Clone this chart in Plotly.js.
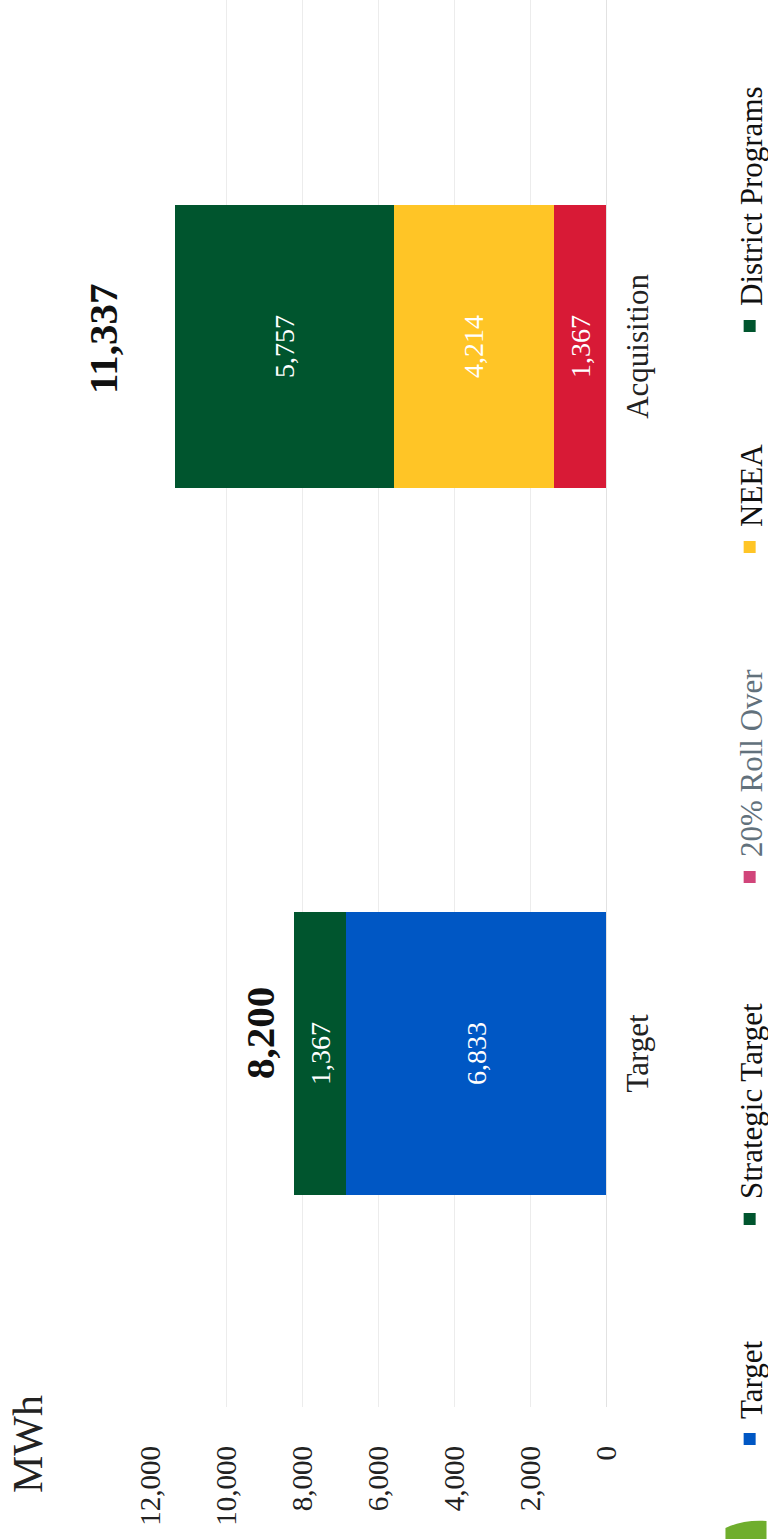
<!DOCTYPE html>
<html>
<head>
<meta charset="utf-8">
<script src="https://cdn.plot.ly/plotly-3.0.1.min.js"></script>
<style>
  html, body { margin: 0; padding: 0; background: #ffffff; overflow: hidden; }
  #wrap { position: absolute; left: 0; top: 0; width: 768px; height: 1539px; overflow: hidden; background: #fff; }
  #chart { position: absolute; left: 0; top: 1539px; width: 1539px; height: 768px;
           transform-origin: 0 0; transform: rotate(-90deg); }
</style>
</head>
<body>
<div id="wrap"><div id="chart"></div></div>
<script>
// ---- data ----
const categories = ['Target', 'Acquisition'];
const seriesNames = ['Target', 'Strategic Target', '20% Roll Over', 'NEEA', 'District Programs'];
const targetValues = [6833, null];
const strategicValues = [1367, null];
const rollOverValues = [null, 1367];
const neeaValues = [null, 4214];
const districtValues = [null, 5757];
const totalValues = [8200, 11337];
const tickValues = [0, 2000, 4000, 6000, 8000, 10000, 12000];
const tickLabels = ['0', '2,000', '4,000', '6,000', '8,000', '10,000', '12,000'];
const unitLabel = 'MWh';

// ---- styling ----
const W = 1539, H = 768;
const FONT = 'Liberation Serif, "Times New Roman", serif';
const colors = {
  target: '#0057c4',
  strategic: '#00552e',
  rollBar: '#d81a36',
  rollLegend: '#d1457a',
  neea: '#ffc526',
  district: '#00552e'
};
const barText = { family: FONT, size: 28, color: '#ffffff' };

function barTrace(name, vals, color, legendId, extra) {
  return Object.assign({
    type: 'bar', name: name, x: categories, y: vals,
    marker: { color: color, line: { width: 0 } },
    texttemplate: '%{y:,.0f}', textposition: 'inside', insidetextanchor: 'middle',
    textangle: 0, textfont: barText, constraintext: 'none',
    legend: legendId, hoverinfo: 'skip'
  }, extra || {});
}

const traces = [
  barTrace(seriesNames[0], targetValues, colors.target, 'legend'),
  barTrace(seriesNames[1], strategicValues, colors.strategic, 'legend2'),
  barTrace(seriesNames[2], rollOverValues, colors.rollBar, 'legend3', { showlegend: false, legendgroup: 'roll' }),
  // legend-only entry (the reference legend swatch is pinker than the bar)
  { type: 'bar', name: seriesNames[2], x: [categories[1]], y: [null], marker: { color: colors.rollLegend },
    legend: 'legend3', legendgroup: 'roll', hoverinfo: 'skip' },
  barTrace(seriesNames[3], neeaValues, colors.neea, 'legend4'),
  barTrace(seriesNames[4], districtValues, colors.district, 'legend5')
];

// legend placement (container coords in the unrotated frame)
const legendLeft = [94, 314, 656, 986, 1207];
const legendMid = 750;
function legendAt(i, color) {
  return {
    xref: 'container', yref: 'container',
    x: (legendLeft[i] - 14) / W, y: 1 - legendMid / H,
    xanchor: 'left', yanchor: 'middle', orientation: 'h',
    bgcolor: 'rgba(0,0,0,0)', borderwidth: 0,
    font: { family: FONT, size: 31, color: color || '#111111' }
  };
}

const totalShiftY = [34, 72];
const totalShiftX = [20, 8];
const annotations = categories.map((c, i) => ({
  x: c, y: totalValues[i], xref: 'x', yref: 'y',
  text: '<b>' + totalValues[i].toLocaleString('en-US') + '</b>',
  showarrow: false, yanchor: 'middle', yshift: totalShiftY[i], xshift: totalShiftX[i],
  font: { family: FONT, size: 41, color: '#111111' }
}));
annotations.push({
  xref: 'paper', yref: 'paper', x: -0.0625, y: 1.268, xanchor: 'left', yanchor: 'middle',
  text: unitLabel, showarrow: false, font: { family: FONT, size: 42, color: '#222222' }
});

const layout = {
  width: W, height: H,
  margin: { l: 132, r: 0, t: 150, b: 162, pad: 0 },
  paper_bgcolor: '#ffffff', plot_bgcolor: '#ffffff',
  barmode: 'stack', bargap: 0.6,
  font: { family: FONT, color: '#222222' },
  showlegend: true,
  xaxis: {
    type: 'category', range: [-0.5, 1.49], showgrid: false, zeroline: false, showline: false,
    ticks: '', tickfont: { family: FONT, size: 31, color: '#222222' }, ticklabelstandoff: 10
  },
  yaxis: {
    range: [0, 12000], tickvals: tickValues, ticktext: tickLabels,
    showgrid: true, gridcolor: '#ececec', gridwidth: 1,
    zeroline: true, zerolinecolor: '#e2e2e2', zerolinewidth: 1, showline: false, ticks: '',
    tickfont: { family: FONT, size: 29, color: '#222222' }, ticklabelstandoff: 38
  },
  legend: legendAt(0),
  legend2: legendAt(1),
  legend3: legendAt(2, '#62717c'),
  legend4: legendAt(3),
  legend5: legendAt(4),
  annotations: annotations,
  shapes: [{
    type: 'path', xref: 'paper', yref: 'paper', layer: 'above',
    path: 'M -0.094,-0.352 L -0.081,-0.352 Q -0.080,-0.300 -0.086,-0.262 L -0.094,-0.262 Z',
    fillcolor: '#6fae2d', line: { width: 0 }
  }]
};

Plotly.newPlot('chart', traces, layout, { displayModeBar: false, staticPlot: true });
</script>
</body>
</html>
